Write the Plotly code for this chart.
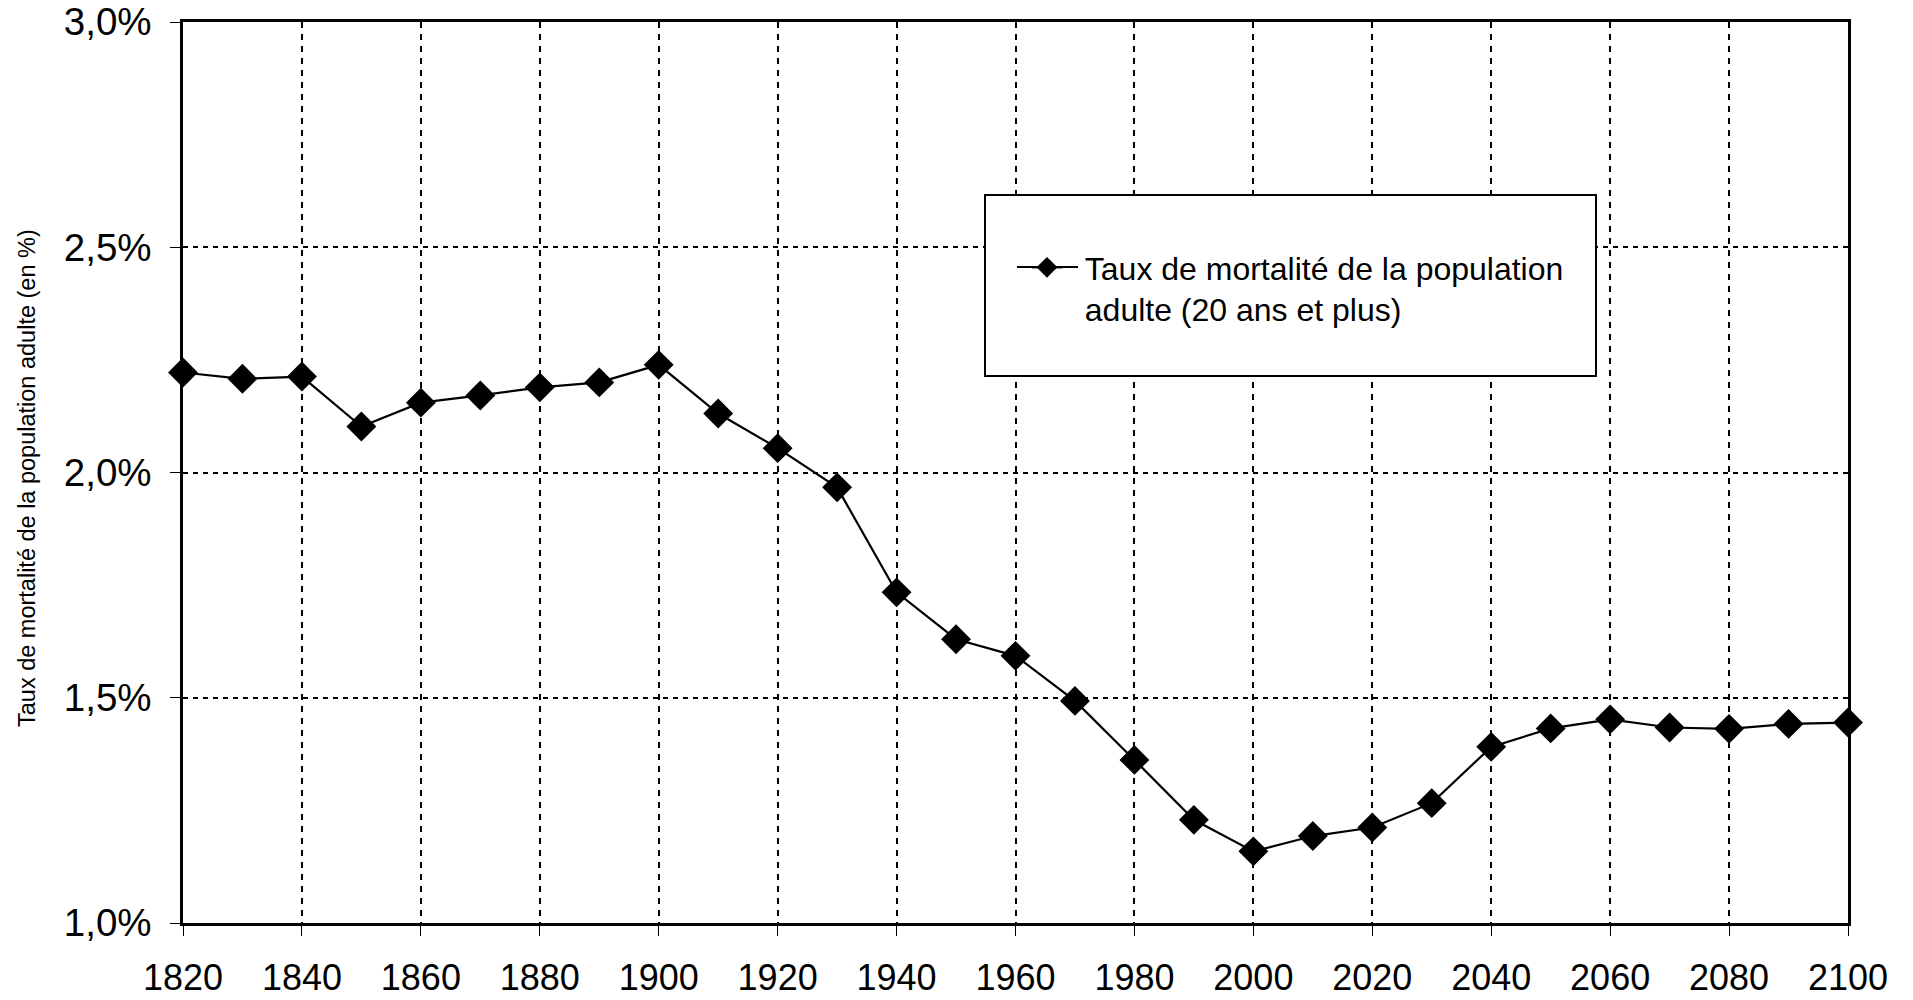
import plotly.graph_objects as go

years = [1820, 1830, 1840, 1850, 1860, 1870, 1880, 1890, 1900, 1910,
         1920, 1930, 1940, 1950, 1960, 1970, 1980, 1990, 2000, 2010,
         2020, 2030, 2040, 2050, 2060, 2070, 2080, 2090, 2100]
taux = [2.222, 2.208, 2.213, 2.102, 2.155, 2.171, 2.189, 2.200, 2.239, 2.131,
        2.054, 1.967, 1.734, 1.630, 1.593, 1.493, 1.362, 1.229, 1.159, 1.193,
        1.212, 1.266, 1.391, 1.432, 1.452, 1.434, 1.431, 1.442, 1.445]
serie_nom = ("\u00a0\u00a0Taux de mortalité de la population<br>"
             "\u00a0\u00a0adulte (20 ans et plus)")
titre_y = "Taux de mortalité de la population adulte (en %)"

FONT = "Liberation Sans, Arial, sans-serif"
W, H = 1913, 1000
# plot area in page pixels: x 183..1848, y 22..923
L, T, R, B = 183, 22, W - 1848, H - 923
pw, ph = W - L - R, H - T - B


def px(xpage):
    return (xpage - L) / pw


def py(ypage):
    return (H - B - ypage) / ph


fig = go.Figure()
fig.add_trace(go.Scatter(
    x=years, y=taux, name=serie_nom, mode="lines+markers",
    line=dict(color="black", width=2.2),
    marker=dict(symbol="diamond", size=23, color="black"),
    cliponaxis=False, showlegend=True,
))

fig.update_layout(
    width=W, height=H,
    margin=dict(l=L, r=R, t=T, b=B, pad=0, autoexpand=False),
    paper_bgcolor="white", plot_bgcolor="white",
    separators=", ",
    font=dict(family=FONT, color="black"),
    showlegend=True,
    legend=dict(x=px(1027), y=py(240), xanchor="left", yanchor="top",
                bgcolor="rgba(0,0,0,0)", borderwidth=0,
                font=dict(size=32, family=FONT, color="black"),
                valign="top"),
    xaxis=dict(range=[1820, 2100], tick0=1820, dtick=20, tickmode="linear",
               showgrid=True, gridcolor="black", gridwidth=2, griddash="6px,6px",
               showline=True, linecolor="black", linewidth=2.5, mirror=True,
               ticks="outside", ticklen=10, tickwidth=1, tickcolor="black",
               tickfont=dict(size=36, family=FONT, color="black"),
               ticklabelstandoff=11, ticklabeloverflow="allow",
               zeroline=False, automargin=False),
    yaxis=dict(range=[1.0, 3.0], tick0=1.0, dtick=0.5, tickmode="linear",
               tickformat=".1f", ticksuffix="%",
               showgrid=True, gridcolor="black", gridwidth=2, griddash="5px,5px",
               showline=True, linecolor="black", linewidth=2.5, mirror=True,
               ticks="outside", ticklen=10, tickwidth=1, tickcolor="black",
               tickfont=dict(size=38.5, family=FONT, color="black"),
               ticklabelstandoff=11, ticklabeloverflow="allow",
               zeroline=False, automargin=False),
)

# legend frame
fig.add_shape(type="rect", xref="paper", yref="paper",
              x0=px(985), x1=px(1596), y0=py(376), y1=py(195),
              line=dict(color="black", width=2), fillcolor="white", layer="above")
# longer legend sample line (Excel style)
fig.add_shape(type="line", xref="paper", yref="paper",
              x0=px(1017), x1=px(1078), y0=py(267), y1=py(267),
              line=dict(color="black", width=2.2), layer="above")

fig.add_annotation(text=titre_y, xref="paper", yref="paper",
                   x=px(27), y=py(478), xanchor="center", yanchor="middle",
                   textangle=-90, showarrow=False,
                   font=dict(size=23.5, family=FONT, color="black"))

fig.write_html("out.html", config={"displayModeBar": False},
               post_script="document.body.style.margin='0';"
               "document.body.style.overflow='hidden';")
